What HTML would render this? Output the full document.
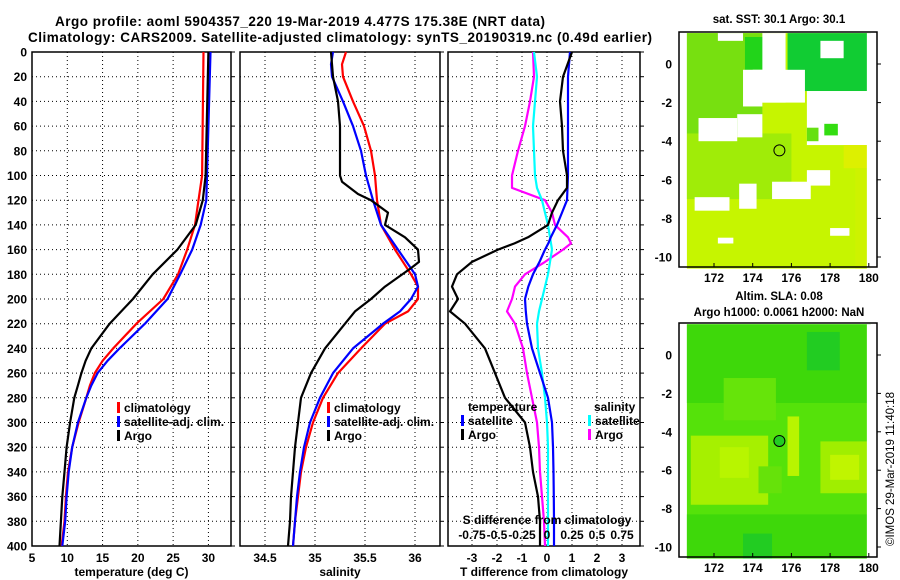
<!DOCTYPE html>
<html><head><meta charset="utf-8"><style>
body{margin:0;background:#fff}
svg{display:block;font-family:"Liberation Sans",sans-serif;font-weight:bold}
</style></head><body>
<svg id="fig" width="900" height="580" viewBox="0 0 900 580">
<text x="300" y="26" font-size="13.5" text-anchor="middle" textLength="490">Argo profile: aoml 5904357_220 19-Mar-2019 4.477S 175.38E (NRT data)</text>
<text x="340" y="42" font-size="13.5" text-anchor="middle" textLength="624">Climatology: CARS2009. Satellite-adjusted climatology: synTS_20190319.nc (0.49d earlier)</text>
<text x="779" y="23" font-size="11.5" text-anchor="middle">sat. SST: 30.1 Argo: 30.1</text>
<text x="779" y="300" font-size="11.5" text-anchor="middle">Altim. SLA: 0.08</text>
<text x="779" y="316" font-size="11.5" text-anchor="middle">Argo h1000: 0.0061 h2000: NaN</text>
<text transform="translate(894,546) rotate(-90)" font-size="11.5" font-weight="normal">©IMOS 29-Mar-2019 11:40:18</text>
<g id="layer"></g>
</svg>
<script>
// ---------- data ----------
const depthT=[0,100,120,140,160,180,200,220,240,250,260,270,280,300,320,340,360,380,400];
const tempClim=[29.3,29.1,28.6,28.1,27.0,25.7,23.6,19.8,16.5,15.0,13.9,13.2,12.7,11.6,10.7,10.1,9.8,9.6,9.2];
const tempSat=[30.3,29.8,29.7,28.9,27.7,26.0,24.2,21.0,17.4,15.7,14.3,13.4,12.7,11.5,10.7,10.2,9.9,9.7,9.3];
const tempArgo=[30.0,29.6,29.2,28.2,25.6,22.1,19.3,16.0,13.4,12.6,12.0,11.5,11.0,10.4,9.9,9.6,9.3,9.1,8.9];
const depthS=[0,10,20,40,60,80,100,120,140,160,180,190,200,210,220,240,260,280,300,320,340,360,380,400];
const salClim=[35.31,35.27,35.28,35.38,35.49,35.56,35.60,35.62,35.66,35.80,35.96,36.03,36.03,35.93,35.70,35.46,35.23,35.08,34.98,34.91,34.86,34.83,34.80,34.78];
const salSat=[35.18,35.16,35.17,35.28,35.38,35.46,35.51,35.58,35.66,35.83,36.00,36.03,35.96,35.85,35.68,35.38,35.18,35.05,34.95,34.89,34.85,34.82,34.80,34.78];
const depthA=[0,20,40,60,80,100,105,115,120,130,140,150,160,170,175,190,200,210,220,240,260,280,300,320,340,360,380,400];
const salArgo=[35.16,35.18,35.23,35.25,35.25,35.25,35.27,35.43,35.56,35.73,35.70,35.90,36.03,36.04,35.96,35.70,35.56,35.40,35.30,35.10,34.96,34.86,34.83,34.80,34.78,34.76,34.75,34.73];
const depthD=[0,20,40,60,80,100,110,120,130,140,150,155,160,170,180,190,200,210,220,240,260,280,300,320,340,360,380,400];
const dTSat=[0.92,0.84,0.84,0.84,0.84,0.84,0.82,0.8,0.6,0.4,0.15,0.05,-0.08,-0.3,-0.56,-0.75,-0.88,-0.85,-0.8,-0.6,-0.28,0.04,0.2,0.24,0.26,0.27,0.28,0.28];
const dTArgo=[1.0,0.64,0.52,0.6,0.64,0.8,0.8,0.44,0.2,0.04,-0.76,-1.3,-1.96,-3.0,-3.6,-3.8,-3.56,-3.88,-3.28,-2.48,-2.08,-1.68,-0.88,-0.68,-0.56,-0.36,-0.28,-0.28];
const dSSat=[-0.13,-0.10,-0.12,-0.14,-0.13,-0.12,-0.1,-0.05,-0.02,0.01,0.03,0.04,0.05,0.03,0.01,-0.02,-0.05,-0.08,-0.1,-0.09,-0.05,-0.02,0.0,0.01,0.01,0.01,0.01,0.01];
const dSArgo=[-0.14,-0.13,-0.17,-0.22,-0.29,-0.35,-0.35,-0.02,0.05,0.08,0.21,0.24,0.16,-0.02,-0.22,-0.32,-0.35,-0.40,-0.32,-0.24,-0.2,-0.15,-0.10,-0.08,-0.07,-0.05,-0.03,-0.02];
const depthTicks=[0,20,40,60,80,100,120,140,160,180,200,220,240,260,280,300,320,340,360,380,400];
const tempTicks=[5,10,15,20,25,30];
const salTicks=[34.5,35,35.5,36];
const dTTicks=[-3,-2,-1,0,1,2,3];
const dSTickLabels=["-0.75","-0.5","-0.25","0","0.25","0.5","0.75"];
const lonTicks=[172,174,176,178,180];
const latTicks=[0,-2,-4,-6,-8,-10];
const argoLon=175.38, argoLat=-4.477;

// ---------- helpers ----------
const NS="http://www.w3.org/2000/svg";
const L=document.getElementById('layer');
function mk(tag,attrs,parent){const e=document.createElementNS(NS,tag);for(const k in attrs)e.setAttribute(k,attrs[k]);(parent||L).appendChild(e);return e;}
const Y0=52,Y1=546;
const yD=d=>Y0+(d/400)*(Y1-Y0);
const panels=[
 {x0:32,x1:231,lo:5,hi:33.2,ticks:tempTicks,label:"temperature (deg C)",name:"temperature-panel"},
 {x0:240,x1:440,lo:34.25,hi:36.25,ticks:salTicks,label:"salinity",name:"salinity-panel"},
 {x0:448,x1:640,lo:-3.96,hi:3.72,ticks:dTTicks,label:"T difference from climatology",name:"difference-panel"}
];
panels.forEach(p=>{p.sx=v=>p.x0+(v-p.lo)/(p.hi-p.lo)*(p.x1-p.x0);});

panels.forEach((p,i)=>{
 const g=mk('g',{});
 
 
 depthTicks.forEach(d=>{
  if(d>0&&d<400){const gl=mk('line',{x1:p.x0,x2:p.x1,y1:yD(d),y2:yD(d),stroke:'#000','stroke-width':1,'stroke-dasharray':'1 3'},g);
   }
  const tk=mk('line',{x1:p.x1,x2:p.x1+4,y1:yD(d),y2:yD(d),stroke:'#000'},g);
  
  if(i===0){const t=mk('text',{x:27,y:yD(d)+4.5,'font-size':12,'text-anchor':'end'},g);t.textContent=d;
   }
 });
 p.ticks.forEach(v=>{
  const x=p.sx(v);
  const gl=mk('line',{x1:x,x2:x,y1:Y0,y2:Y1,stroke:'#000','stroke-dasharray':'1 3'},g);
  
  const t=mk('text',{x:x,y:562,'font-size':12,'text-anchor':'middle'},g);t.textContent=v;
  
 });
 const fr=mk('rect',{x:p.x0,y:Y0,width:p.x1-p.x0,height:Y1-Y0,fill:'none',stroke:'#000','stroke-width':1.5},g);
 
 const xl=mk('text',{x:(p.x0+p.x1)/2,y:576,'font-size':12,'text-anchor':'middle'},g);xl.textContent=p.label;
 
});

function line(p,depths,vals,color,name,scale){
 const pts=depths.map((d,i)=>p.sx(vals[i]*(scale||1)).toFixed(1)+','+yD(d).toFixed(1)).join(' ');
 const e=mk('polyline',{points:pts,fill:'none',stroke:color,'stroke-width':2.2,'stroke-linejoin':'round'});
 
 
}
const P1=panels[0],P2=panels[1],P3=panels[2];
line(P1,depthT,tempClim,'#f00','temp-climatology-line');
line(P1,depthT,tempSat,'#00f','temp-satellite-line');
line(P1,depthT,tempArgo,'#000','temp-argo-line');
line(P2,depthS,salClim,'#f00','sal-climatology-line');
line(P2,depthS,salSat,'#00f','sal-satellite-line');
line(P2,depthA,salArgo,'#000','sal-argo-line');
line(P3,depthD,dSArgo,'#f0f','s-diff-argo-line',4);
line(P3,depthD,dSSat,'#0ff','s-diff-satellite-line',4);
line(P3,depthD,dTSat,'#00f','t-diff-satellite-line');
line(P3,depthD,dTArgo,'#000','t-diff-argo-line');

function legend(x,y,color,label,name){
 const g=mk('g',{});
 
 
 mk('rect',{x:x,y:y-10,width:3,height:11,fill:color},g);
 const t=mk('text',{x:x+7,y:y,'font-size':12},g);t.textContent=label;
}
legend(117,412,'#f00','climatology','legend-climatology');
legend(117,426,'#00f','satellite-adj. clim.','legend-satellite-adj');
legend(117,440,'#000','Argo','legend-argo');
legend(327,412,'#f00','climatology','legend-sal-climatology');
legend(327,426,'#00f','satellite-adj. clim.','legend-sal-satellite-adj');
legend(327,440,'#000','Argo','legend-sal-argo');
const lt=mk('text',{x:468,y:411,'font-size':12});lt.textContent='temperature';

const ls=mk('text',{x:594,y:411,'font-size':12});ls.textContent='salinity';

legend(461,425,'#00f','satellite','legend-t-satellite');
legend(461,439,'#000','Argo','legend-t-argo');
legend(588,425,'#0ff','satellite','legend-s-satellite');
legend(588,439,'#f0f','Argo','legend-s-argo');
const sdt=mk('text',{x:547,y:524,'font-size':12,'text-anchor':'middle'});sdt.textContent='S difference from climatology';

dSTickLabels.forEach((s,i)=>{
 const t=mk('text',{x:P3.sx(dTTicks[i]),y:539,'font-size':12,'text-anchor':'middle'});t.textContent=s;
 
});

// ---------- maps ----------
function map(top,bottom,name,kind){
 const x0=679,x1=877,y0=top,y1=bottom;
 const lx=lon=>714+(lon-172)*19.35;
 const ly=lat=>y0+32+(-lat)*(y1-y0-42)/10.4*1.04;
 const g=mk('g',{});
 
 
 const R=(a,b,c,d,f)=>mk('rect',{x:lx(a),y:ly(b),width:lx(c)-lx(a),height:ly(d)-ly(b),fill:f},g);
 if(kind==='sst'){
  R(170.6,1.6,180.1,-10.6,'#c6f500');
  R(170.6,1.6,174.5,-3.6,'#77e010');
  R(170.6,-3.6,176,-7,'#a0ec08');
  R(175.8,1.6,180.1,-1.4,'#11cc33');
  R(173.6,1.4,175.7,-0.3,'#22d41a');
  R(174.5,1.6,175.7,-2.0,'#fff');
  R(174,-0.3,176.7,-2.0,'#fff');
  R(172.2,1.6,173.5,1.2,'#fff');
  R(177.5,1.2,178.7,0.3,'#fff');
  R(173.5,-0.3,174.5,-2.2,'#fff');
  R(171.2,-2.8,173.2,-4.0,'#fff');
  R(173.2,-2.6,174.5,-3.8,'#fff');
  R(176.8,-1.4,180.1,-4.2,'#fff');
  R(177.7,-3.1,178.4,-3.7,'#33dd11');
  R(176.8,-3.3,177.4,-4.0,'#66e011');
  R(178.7,-4.2,180,-5.4,'#ddf000');
  R(179.3,-5.4,180.1,-10.6,'#cdf300');
  R(171.0,-6.9,172.8,-7.6,'#fff');
  R(176.8,-5.5,178,-6.3,'#fff');
  R(178,-8.5,179,-8.9,'#fff');
  R(175,-6.1,177,-7.0,'#fff');
  R(172.2,-9.0,173,-9.3,'#fff');
  R(179.9,1.6,180.2,-10.6,'#fff');
  R(173.3,-6.2,174.2,-7.5,'#fff');
 } else {
  R(170.6,1.6,180.1,-10.6,'#55e20a');
  R(170.6,1.6,180.1,-2.5,'#3ed80a');
  R(176.8,1.2,178.5,-0.8,'#22cc22');
  R(172.5,-1.2,175.2,-3.4,'#66e40a');
  R(170.8,-4.2,174.8,-7.8,'#a6f000');
  R(172.3,-4.8,173.8,-6.4,'#b8f500');
  R(175.8,-3.2,176.4,-6.3,'#b8f500');
  R(177.5,-4.5,180,-7.2,'#a0ee00');
  R(178,-5.2,179.5,-6.5,'#c0f500');
  R(174.3,-5.8,175.5,-7.2,'#66e20a');
  R(170.6,-8.3,180.1,-10.6,'#3ed80a');
  R(173.5,-9.3,175.0,-10.6,'#22cc22');
  R(179.9,1.6,180.6,-10.6,'#fff');
 }
 lonTicks.forEach(v=>{
  mk('line',{x1:lx(v),x2:lx(v),y1:y1,y2:y1-4,stroke:'#000'},g);
  const t=mk('text',{x:lx(v),y:y1+15,'font-size':12,'text-anchor':'middle'},g);t.textContent=v;
  
 });
 latTicks.forEach(v=>{
  mk('line',{x1:x1,x2:x1+4,y1:ly(v),y2:ly(v),stroke:'#000'},g);
  const t=mk('text',{x:672,y:ly(v)+4.5,'font-size':12,'text-anchor':'end'},g);t.textContent=v;
  
 });
 mk('rect',{x:x0,y:y0,width:x1-x0,height:y1-y0,fill:'none',stroke:'#000','stroke-width':1.5},g);
 const c=mk('circle',{cx:lx(argoLon),cy:ly(argoLat),r:5.5,fill:kind==='sst'?'none':'#22cc22',stroke:'#000'},g);
 
 
}
map(32,267,'sst-map','sst');
map(323,557,'sla-map','sla');
</script>
</body></html>
